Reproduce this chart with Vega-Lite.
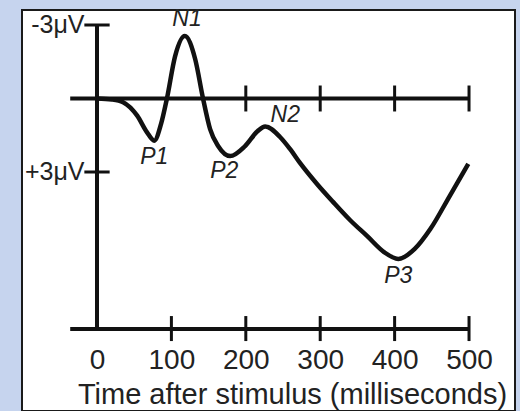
{
  "$schema": "https://vega.github.io/schema/vega-lite/v6.json",
  "width": 493,
  "height": 401,
  "autosize": {"type": "none"},
  "padding": {"left": 22, "top": 10, "right": 5, "bottom": 0},
  "background": "#c6d4ee",
  "config": {
    "view": {"fill": "#ffffff", "stroke": "#1a1a1a", "strokeWidth": 2},
    "font": "Liberation Sans"
  },
  "datasets": {
    "curve": [
      {"t": 0, "v": 0}, {"t": 20, "v": 0.04}, {"t": 35, "v": 0.15}, {"t": 54, "v": 0.7},
      {"t": 67, "v": 1.37}, {"t": 77, "v": 1.72}, {"t": 86, "v": 1.05}, {"t": 94, "v": 0},
      {"t": 105, "v": -1.73}, {"t": 118, "v": -2.55}, {"t": 132, "v": -1.6}, {"t": 142.5, "v": 0},
      {"t": 152, "v": 1.25}, {"t": 163, "v": 1.95}, {"t": 179, "v": 2.35}, {"t": 199, "v": 1.94},
      {"t": 216, "v": 1.33}, {"t": 226, "v": 1.14}, {"t": 246, "v": 1.57}, {"t": 259.4, "v": 2.06},
      {"t": 272.8, "v": 2.63}, {"t": 295.7, "v": 3.49}, {"t": 317.2, "v": 4.22}, {"t": 340, "v": 4.96},
      {"t": 362.9, "v": 5.61}, {"t": 385.8, "v": 6.27},
      {"t": 405, "v": 6.55}, {"t": 427, "v": 6.14}, {"t": 448, "v": 5.33}, {"t": 474, "v": 3.98},
      {"t": 499, "v": 2.67}
    ],
    "lines": [
      {"x": -36, "x2": 500, "y": 0, "y2": 0, "w": 4},
      {"x": -36, "x2": 500, "y": 9.41, "y2": 9.41, "w": 4},
      {"x": 0, "x2": 0, "y": -3, "y2": 9.41, "w": 4},
      {"x": -17, "x2": 17, "y": -3, "y2": -3, "w": 3},
      {"x": -17, "x2": 17, "y": 3, "y2": 3, "w": 3},
      {"x": 200, "x2": 200, "y": -0.53, "y2": 0.53, "w": 3},
      {"x": 300, "x2": 300, "y": -0.53, "y2": 0.53, "w": 3},
      {"x": 400, "x2": 400, "y": -0.53, "y2": 0.53, "w": 3},
      {"x": 500, "x2": 500, "y": -0.53, "y2": 0.53, "w": 3},
      {"x": 100, "x2": 100, "y": 8.88, "y2": 9.9, "w": 3},
      {"x": 200, "x2": 200, "y": 8.88, "y2": 9.9, "w": 3},
      {"x": 300, "x2": 300, "y": 8.88, "y2": 9.9, "w": 3},
      {"x": 400, "x2": 400, "y": 8.88, "y2": 9.9, "w": 3},
      {"x": 500, "x2": 500, "y": 8.88, "y2": 9.9, "w": 3}
    ],
    "peaks": [
      {"label": "N1", "t": 121, "v": -3.24},
      {"label": "P1", "t": 77, "v": 2.39},
      {"label": "P2", "t": 171, "v": 2.96},
      {"label": "N2", "t": 253, "v": 0.67},
      {"label": "P3", "t": 405, "v": 7.24}
    ]
  },
  "layer": [
    {
      "data": {"name": "lines"},
      "mark": {"type": "rule", "color": "#111111"},
      "encoding": {
        "x": {
          "field": "x", "type": "quantitative",
          "scale": {"domain": [-100.8, 561.8], "nice": false, "zero": false},
          "axis": {
            "values": [0, 100, 200, 300, 400, 500],
            "domain": false, "ticks": false, "grid": false,
            "labelFontSize": 28, "labelColor": "#222222", "labelPadding": 0,
            "offset": -65,
            "title": "Time after stimulus (milliseconds)",
            "titleFontSize": 29, "titleFontWeight": "normal", "titleColor": "#222222",
            "titlePadding": 6, "titleX": 270
          }
        },
        "x2": {"field": "x2"},
        "y": {
          "field": "y", "type": "quantitative",
          "scale": {"domain": [-3.612, 12.755], "nice": false, "zero": false, "reverse": true},
          "axis": {
            "values": [-3, 3],
            "labelExpr": "datum.value < 0 ? '-3μV' : '+3μV'",
            "domain": false, "ticks": false, "grid": false,
            "labelFontSize": 25, "labelColor": "#222222", "labelPadding": 0,
            "offset": -62,
            "title": null
          }
        },
        "y2": {"field": "y2"},
        "strokeWidth": {"field": "w", "type": "quantitative", "scale": null, "legend": null}
      }
    },
    {
      "data": {"name": "curve"},
      "mark": {"type": "line", "color": "#111111", "strokeWidth": 4.5, "interpolate": "monotone"},
      "encoding": {
        "x": {"field": "t", "type": "quantitative"},
        "y": {"field": "v", "type": "quantitative"}
      }
    },
    {
      "data": {"name": "peaks"},
      "mark": {"type": "text", "fontSize": 23, "fontStyle": "italic", "color": "#222222", "baseline": "middle", "align": "center"},
      "encoding": {
        "x": {"field": "t", "type": "quantitative"},
        "y": {"field": "v", "type": "quantitative"},
        "text": {"field": "label"}
      }
    }
  ]
}
